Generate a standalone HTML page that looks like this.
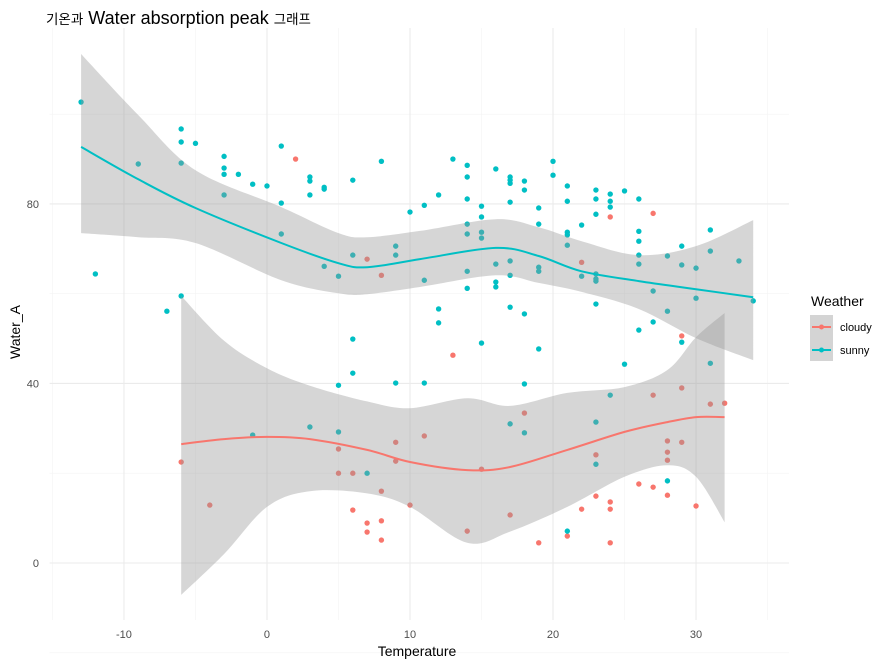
<!DOCTYPE html>
<html><head><meta charset="utf-8">
<style>
html,body{margin:0;padding:0;background:#fff;}
svg{display:block;font-family:"Liberation Sans","Noto Sans CJK KR",sans-serif;}
</style></head>
<body>
<svg id="chart" width="891" height="666" viewBox="0 0 891 666">
<text x="46" y="24" font-size="18" fill="#000"><tspan font-size="13.5" font-family="'Noto Sans CJK KR',sans-serif">기온과</tspan> Water absorption peak <tspan font-size="13.5" font-family="'Noto Sans CJK KR',sans-serif">그래프</tspan></text>
<g id="grid"></g>
<g id="points"></g>
<g id="bands"></g>
<g id="lines"></g>
<g id="axes"></g>
<text x="417" y="656" font-size="14" text-anchor="middle" fill="#000">Temperature</text>
<text transform="translate(20,332) rotate(-90)" font-size="14" text-anchor="middle" fill="#000">Water_A</text>
<g>
<text x="811" y="306" font-size="14" fill="#000">Weather</text>
<rect x="810" y="315" width="23" height="46" fill="#d4d4d4"/>
<g>
<line x1="812" y1="327" x2="831" y2="327" stroke="#F8766D" stroke-width="2"/>
<circle cx="821.5" cy="327" r="2.5" fill="#F8766D"/>
<text x="840" y="331" font-size="11" fill="#000">cloudy</text></g>
<g>
<line x1="812" y1="350" x2="831" y2="350" stroke="#00BFC4" stroke-width="2"/>
<circle cx="821.5" cy="350" r="2.5" fill="#00BFC4"/>
<text x="840" y="354" font-size="11" fill="#000">sunny</text></g>
</g>
</svg>
<script>
const xTicks = [-10, 0, 10, 20, 30];
const xMinor = [-15, -5, 5, 15, 25, 35];
const yTicks = [0, 40, 80];
const yMinor = [-20, 20, 60, 100];

const sunnyX = [-13,-12,-9,-6,-6,-5,-6,-7,-6,-3,-3,-3,-2,-3,-1,0,1,1,1,3,3,3,4,4,6,8,10,4,5,6,9,9,11,12,13,14,14,14,15,15,16,17,17,17,18,18,17,19,19,20,20,21,21,23,23,24,24,24,25,26,23,22,21,21,21,26,26,26,26,28,29,29,30,31,31,33,34,30,28,27,27,26,14,14,15,15,16,17,17,19,19,11,14,14,16,16,22,23,23,23,12,12,17,18,23,15,19,29,6,6,5,9,11,-1,3,5,7,18,25,31,24,17,18,23,23,28,21];
const sunnyY = [102.7,64.4,88.9,96.7,93.8,93.5,89.1,56.1,59.5,90.6,88.0,86.6,86.6,82.0,84.4,84.0,92.9,80.2,73.3,86.0,85.1,82.0,83.7,83.3,85.3,89.5,78.2,66.1,63.9,68.6,70.6,68.6,79.7,82.0,90.0,88.6,86.0,81.1,79.5,77.1,87.8,86.0,85.3,84.6,85.1,83.1,80.4,79.1,75.5,89.5,86.4,84.0,80.6,83.1,81.1,82.2,80.6,79.3,82.9,81.1,77.7,75.3,73.7,73.1,70.8,73.9,71.7,68.6,66.6,68.4,70.6,66.4,65.7,74.2,69.5,67.3,58.4,59.0,56.1,60.6,53.7,51.9,75.5,73.3,73.7,72.4,66.6,67.3,64.1,65.9,65.0,63.0,65.0,61.2,62.6,61.5,63.9,64.4,63.3,62.8,56.6,53.5,57.0,55.5,57.7,49.0,47.7,49.2,49.9,42.3,39.6,40.1,40.1,28.5,30.3,29.2,20.0,39.9,44.3,44.5,37.4,31.0,29.0,31.4,22.0,18.3,7.1];
const cloudyX = [2,7,8,24,27,22,29,13,-6,-4,5,5,6,9,9,11,8,6,7,7,8,8,10,14,18,27,29,31,32,28,29,28,28,23,15,26,27,28,24,24,23,22,30,17,21,19,24];
const cloudyY = [90.0,67.7,64.1,77.1,77.9,67.0,50.6,46.3,22.5,12.9,25.4,20.0,20.0,26.9,22.7,28.3,16.0,11.8,8.9,6.9,9.4,5.1,12.9,7.1,33.4,37.4,39.0,35.4,35.6,27.2,26.9,24.7,22.9,24.1,20.9,17.6,16.9,15.1,13.6,12.0,14.9,12.0,12.7,10.7,6.0,4.5,4.5];

const sunnyFitX = [-13,-9,-5,1,5,7,10.7,16,19,22,26,30,34];
const sunnyFit = [92.7,85.5,79.1,71.3,66.8,65.9,67.7,70.2,68.4,65.0,62.8,61.0,59.2];
const sunnyHi = [113.4,99.8,87.5,79.3,73.5,72.6,74.0,76.6,74.8,71.7,68.6,70.6,76.4];
const sunnyLo = [73.5,72.6,71.3,63.0,60.1,59.9,61.5,64.1,62.4,60.4,56.6,50.1,45.2];

const cloudyFitX = [-6,-3,0,3,7,10,14,17,21,25,28,30,32];
const cloudyFit = [26.5,27.6,28.1,27.6,25.2,22.5,20.7,21.4,25.2,29.2,31.4,32.5,32.5];
const cloudyHi = [59.5,49.5,43.4,39.5,36.0,34.5,36.7,35.0,37.9,39.2,43.0,50.3,55.7];
const cloudyLo = [-7.1,2.0,12.5,16.0,15.5,12.5,4.5,7.0,12.5,19.2,21.8,19.2,9.1];

const X0 = -15.2, X1 = 36.5, PL = 49.6, PR = 789;
const Y0 = -12.7, Y1 = 119.2, PB = 620, PT = 28;
function sx(v){ return PL + (v - X0) / (X1 - X0) * (PR - PL); }
function sy(v){ return PB - (v - Y0) / (Y1 - Y0) * (PB - PT); }
const NS = 'http://www.w3.org/2000/svg';
function mk(tag, attrs, parent){ const e = document.createElementNS(NS, tag); for (const k in attrs) e.setAttribute(k, attrs[k]); parent.appendChild(e); return e; }

const grid = document.getElementById('grid');
xMinor.forEach(v => { const l = mk('line', {x1:sx(v),x2:sx(v),y1:PT,y2:PB,stroke:'#f3f3f3','stroke-width':0.6}, grid);

 });
yMinor.forEach(v => { const l = mk('line', {x1:PL,x2:PR,y1:sy(v),y2:sy(v),stroke:'#f3f3f3','stroke-width':0.6}, grid);

 });
xTicks.forEach(v => { const l = mk('line', {x1:sx(v),x2:sx(v),y1:PT,y2:PB,stroke:'#ebebeb','stroke-width':1.1}, grid);

 });
yTicks.forEach(v => { const l = mk('line', {x1:PL,x2:PR,y1:sy(v),y2:sy(v),stroke:'#ebebeb','stroke-width':1.1}, grid);

 });

const axes = document.getElementById('axes');
xTicks.forEach(v => { const t = mk('text', {x:sx(v),y:638,'font-size':11,'text-anchor':'middle',fill:'#4d4d4d'}, axes); t.textContent = v;

 });
yTicks.forEach(v => { const t = mk('text', {x:39,y:sy(v)+4,'font-size':11,'text-anchor':'end',fill:'#4d4d4d'}, axes); t.textContent = v;

 });

const pts = document.getElementById('points');
cloudyX.forEach((x,i) => { const c = mk('circle', {cx:sx(x),cy:sy(cloudyY[i]),r:2.7,fill:'#F8766D'}, pts);

 });
sunnyX.forEach((x,i) => { const c = mk('circle', {cx:sx(x),cy:sy(sunnyY[i]),r:2.7,fill:'#00BFC4'}, pts);

 });

function smoothPath(xs, ys, move){
  const p = xs.map((x,i) => [sx(x), sy(ys[i])]);
  let d = (move ? 'M' : 'L') + p[0][0].toFixed(1) + ',' + p[0][1].toFixed(1);
  for (let i = 0; i < p.length - 1; i++){
    const p0 = p[Math.max(0,i-1)], p1 = p[i], p2 = p[i+1], p3 = p[Math.min(p.length-1,i+2)];
    const c1 = [p1[0] + (p2[0]-p0[0])/6, p1[1] + (p2[1]-p0[1])/6];
    const c2 = [p2[0] - (p3[0]-p1[0])/6, p2[1] - (p3[1]-p1[1])/6];
    d += 'C' + c1.map(v=>v.toFixed(1)).join(',') + ' ' + c2.map(v=>v.toFixed(1)).join(',') + ' ' + p2.map(v=>v.toFixed(1)).join(',');
  }
  return d;
}
const bands = document.getElementById('bands');
const lines = document.getElementById('lines');
function drawSmooth(xs, fit, hi, lo, color, name){
  const rx = xs.slice().reverse(), rlo = lo.slice().reverse();
  const b = mk('path', {d: smoothPath(xs, hi, true) + smoothPath(rx, rlo, false) + 'Z', fill:'#999999', 'fill-opacity':0.4}, bands);
  
  
  const l = mk('path', {d: smoothPath(xs, fit, true), fill:'none', stroke:color, 'stroke-width':2}, lines);
  
  
}
drawSmooth(cloudyFitX, cloudyFit, cloudyHi, cloudyLo, '#F8766D', 'cloudy');
drawSmooth(sunnyFitX, sunnyFit, sunnyHi, sunnyLo, '#00BFC4', 'sunny');
</script>
</body></html>
